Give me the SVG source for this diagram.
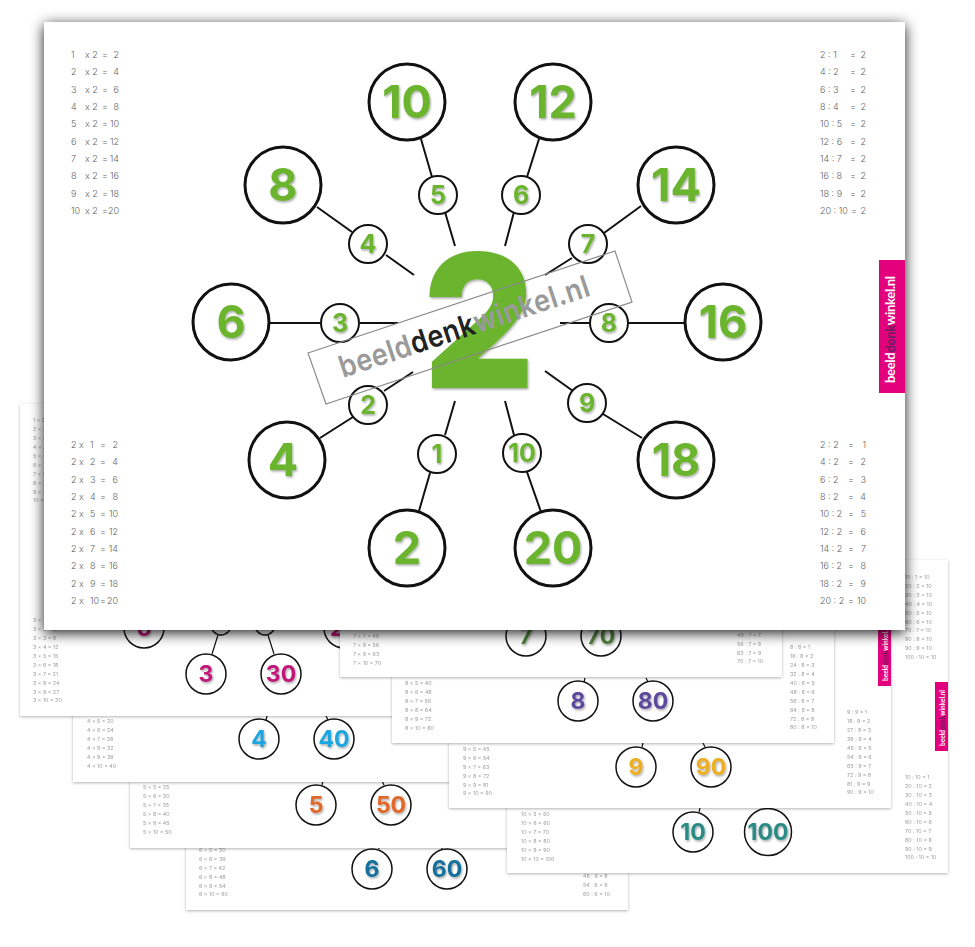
<svg xmlns="http://www.w3.org/2000/svg" width="975" height="947" viewBox="0 0 975 947">
<defs>
<style>
text{font-family:Inter,"Liberation Sans",sans-serif}
.sheet{fill:#fff;filter:url(#ss)}
.t{font-size:5.4px;fill:#a0a0a0;filter:url(#soft)}
.m{font-size:9px;fill:#5f5f5f;font-weight:300}
.e{text-anchor:end}
.c{fill:#fff;stroke:#111;stroke-width:1.5}
.d{font-size:23px;font-weight:700;text-anchor:middle;filter:url(#ds)}
.L{fill:#fff;stroke:#111;stroke-width:3}
.S{fill:#fff;stroke:#111;stroke-width:2}
.g{fill:#6ab42d;font-weight:700;text-anchor:middle;filter:url(#ds)}
.b{font-size:45px}
.s{font-size:25px}
.l{stroke:#111;stroke-width:2;fill:none}
.sl{stroke:#111;stroke-width:1.2;fill:none}
.tab{fill:#e2007d}
.tabt{fill:#fff;font-weight:700;font-family:Lato,"Liberation Sans",sans-serif}
</style>
<filter id="ss" x="-5%" y="-5%" width="110%" height="110%"><feDropShadow dx="0" dy="1" stdDeviation="1.5" flood-color="#000" flood-opacity=".3"/></filter>
<filter id="ms" x="-5%" y="-5%" width="110%" height="112%"><feDropShadow dx="0" dy="3" stdDeviation="7" flood-color="#000" flood-opacity=".9"/></filter>
<filter id="ds" x="-20%" y="-20%" width="140%" height="140%"><feDropShadow dx="1" dy="1.5" stdDeviation="1.2" flood-color="#000" flood-opacity=".35"/></filter>
<filter id="soft"><feGaussianBlur stdDeviation=".25"/></filter>
</defs>
<rect width="975" height="947" fill="#fff"/>

<g id="sheet-6">
<rect class="sheet" x="186" y="599" width="442" height="311"/>
<text class="t" x="199" y="852">6 x 5 = 30</text><text class="t" x="199" y="861">6 x 6 = 36</text><text class="t" x="199" y="870">6 x 7 = 42</text><text class="t" x="199" y="879">6 x 8 = 48</text><text class="t" x="199" y="888">6 x 9 = 54</text><text class="t" x="199" y="896">6 x 10 = 60</text>
<text class="t" x="583" y="878">48 : 6 = 8</text><text class="t" x="583" y="887">54 : 6 = 9</text><text class="t" x="583" y="896">60 : 6 = 10</text>
<path class="sl" d="M378 845l1 4M441 845l1 4"/>
<circle class="c" cx="372" cy="869" r="20"/><circle class="c" cx="447" cy="869" r="20"/>
<text class="d" x="372" y="877" fill="#126f9b">6</text><text class="d" x="447" y="877" fill="#126f9b">60</text>
</g>
<g id="sheet-5">
<rect class="sheet" x="130" y="535" width="442" height="313"/>
<text class="t" x="143" y="789">5 x 5 = 25</text><text class="t" x="143" y="798">5 x 6 = 30</text><text class="t" x="143" y="807">5 x 7 = 35</text><text class="t" x="143" y="816">5 x 8 = 40</text><text class="t" x="143" y="825">5 x 9 = 45</text><text class="t" x="143" y="834">5 x 10 = 50</text>
<path class="sl" d="M323 781l-1 4M382 781l2 4"/>
<circle class="c" cx="316" cy="805" r="20"/><circle class="c" cx="391" cy="805" r="20"/>
<text class="d" x="316" y="813" fill="#e2682a">5</text><text class="d" x="391" y="813" fill="#e2682a">50</text>
</g>
<g id="sheet-4">
<rect class="sheet" x="73" y="470" width="442" height="312"/>
<text class="t" x="87" y="723">4 x 5 = 20</text><text class="t" x="87" y="732">4 x 6 = 24</text><text class="t" x="87" y="741">4 x 7 = 28</text><text class="t" x="87" y="750">4 x 8 = 32</text><text class="t" x="87" y="759">4 x 9 = 36</text><text class="t" x="87" y="768">4 x 10 = 40</text>
<path class="sl" d="M267 716l-1 4M326 716l2 4"/>
<circle class="c" cx="259" cy="739" r="20"/><circle class="c" cx="334" cy="739" r="20"/>
<text class="d" x="259" y="747" fill="#1ea6df">4</text><text class="d" x="334" y="747" fill="#1ea6df">40</text>
</g>
<g id="sheet-3">
<rect class="sheet" x="20" y="404" width="442" height="312"/>
<text class="t" x="33" y="422">1 x 3 = 3</text><text class="t" x="33" y="431">2 x 3 = 6</text><text class="t" x="33" y="440">3 x 3 = 9</text><text class="t" x="33" y="449">4 x 3 = 12</text><text class="t" x="33" y="458">5 x 3 = 15</text><text class="t" x="33" y="467">6 x 3 = 18</text><text class="t" x="33" y="476">7 x 3 = 21</text><text class="t" x="33" y="485">8 x 3 = 24</text><text class="t" x="33" y="494">9 x 3 = 27</text><text class="t" x="33" y="502">10 x 3 = 30</text>
<text class="t" x="33" y="622">3 x 1 = 3</text><text class="t" x="33" y="631">3 x 2 = 6</text><text class="t" x="33" y="640">3 x 3 = 9</text><text class="t" x="33" y="649">3 x 4 = 12</text><text class="t" x="33" y="658">3 x 5 = 15</text><text class="t" x="33" y="667">3 x 6 = 18</text><text class="t" x="33" y="676">3 x 7 = 21</text><text class="t" x="33" y="685">3 x 8 = 24</text><text class="t" x="33" y="694">3 x 9 = 27</text><text class="t" x="33" y="702">3 x 10 = 30</text>
<path class="sl" d="M218 635l-6 19M268 635l6 19"/>
<circle class="c" cx="221" cy="625" r="10"/><circle class="c" cx="265" cy="625" r="10"/>
<circle class="c" cx="144" cy="628" r="20"/><circle class="c" cx="344" cy="628" r="20"/>
<text class="d" x="144" y="636" fill="#c2187a">6</text><text class="d" x="344" y="636" fill="#c2187a">27</text>
<circle class="c" cx="206" cy="674" r="20"/><circle class="c" cx="281" cy="674" r="20"/>
<text class="d" x="206" y="682" fill="#c2187a">3</text><text class="d" x="281" y="682" fill="#c2187a">30</text>
</g>
<g id="sheet-10">
<rect class="sheet" x="507" y="560" width="441" height="313"/>
<text class="t" x="521" y="816">10 x 5 = 50</text><text class="t" x="521" y="825">10 x 6 = 60</text><text class="t" x="521" y="834">10 x 7 = 70</text><text class="t" x="521" y="843">10 x 8 = 80</text><text class="t" x="521" y="852">10 x 9 = 90</text><text class="t" x="521" y="861">10 x 10 = 100</text>
<text class="t" x="905" y="579">10 : 1 = 10</text><text class="t" x="905" y="588">20 : 2 = 10</text><text class="t" x="905" y="597">30 : 3 = 10</text><text class="t" x="905" y="606">40 : 4 = 10</text><text class="t" x="905" y="615">50 : 5 = 10</text><text class="t" x="905" y="624">60 : 6 = 10</text><text class="t" x="905" y="632">70 : 7 = 10</text><text class="t" x="905" y="641">80 : 8 = 10</text><text class="t" x="905" y="650">90 : 9 = 10</text><text class="t" x="905" y="659">100 : 10 = 10</text>
<text class="t" x="905" y="779">10 : 10 = 1</text><text class="t" x="905" y="788">20 : 10 = 2</text><text class="t" x="905" y="797">30 : 10 = 3</text><text class="t" x="905" y="806">40 : 10 = 4</text><text class="t" x="905" y="815">50 : 10 = 5</text><text class="t" x="905" y="824">60 : 10 = 6</text><text class="t" x="905" y="833">70 : 10 = 7</text><text class="t" x="905" y="842">80 : 10 = 8</text><text class="t" x="905" y="851">90 : 10 = 9</text><text class="t" x="905" y="859">100 : 10 = 10</text>
<path class="sl" d="M700 808l-1 4"/>
<circle class="c" cx="693" cy="832" r="20"/><circle class="c" cx="768" cy="832" r="23.5"/>
<text class="d" x="693" y="840" fill="#2b8a84">10</text><text class="d" x="768" y="840" fill="#2b8a84">100</text>
<rect class="tab" x="935" y="682" width="13" height="69"/>
<text class="tabt" font-size="6.5" transform="translate(944.5 746) rotate(-90)" textLength="56">beeld<tspan fill="#6d1e5e">denk</tspan>winkel.nl</text>
</g>
<g id="sheet-9">
<rect class="sheet" x="449" y="496" width="442" height="312"/>
<text class="t" x="463" y="751">9 x 5 = 45</text><text class="t" x="463" y="760">9 x 6 = 54</text><text class="t" x="463" y="769">9 x 7 = 63</text><text class="t" x="463" y="778">9 x 8 = 72</text><text class="t" x="463" y="787">9 x 9 = 81</text><text class="t" x="463" y="795">9 x 10 = 90</text>
<text class="t" x="847" y="714">9 : 9 = 1</text><text class="t" x="847" y="723">18 : 9 = 2</text><text class="t" x="847" y="732">27 : 9 = 3</text><text class="t" x="847" y="741">36 : 9 = 4</text><text class="t" x="847" y="750">45 : 9 = 5</text><text class="t" x="847" y="759">54 : 9 = 6</text><text class="t" x="847" y="768">63 : 9 = 7</text><text class="t" x="847" y="777">72 : 9 = 8</text><text class="t" x="847" y="786">81 : 9 = 9</text><text class="t" x="847" y="794">90 : 9 = 10</text>
<path class="sl" d="M643 743l-1 4M703 743l2 4"/>
<circle class="c" cx="636" cy="767" r="20"/><circle class="c" cx="711" cy="767" r="20"/>
<text class="d" x="636" y="775" fill="#ecaf22">9</text><text class="d" x="711" y="775" fill="#ecaf22">90</text>
<rect class="tab" x="878" y="617" width="13" height="69"/>
<text class="tabt" font-size="6.5" transform="translate(887.5 681) rotate(-90)" textLength="56">beeld<tspan fill="#6d1e5e">denk</tspan>winkel.nl</text>
</g>
<g id="sheet-8">
<rect class="sheet" x="392" y="431" width="442" height="312"/>
<text class="t" x="405" y="685">8 x 5 = 40</text><text class="t" x="405" y="694">8 x 6 = 48</text><text class="t" x="405" y="703">8 x 7 = 56</text><text class="t" x="405" y="712">8 x 8 = 64</text><text class="t" x="405" y="721">8 x 9 = 72</text><text class="t" x="405" y="730">8 x 10 = 80</text>
<text class="t" x="790" y="649">8 : 8 = 1</text><text class="t" x="790" y="658">16 : 8 = 2</text><text class="t" x="790" y="667">24 : 8 = 3</text><text class="t" x="790" y="676">32 : 8 = 4</text><text class="t" x="790" y="685">40 : 8 = 5</text><text class="t" x="790" y="694">48 : 8 = 6</text><text class="t" x="790" y="703">56 : 8 = 7</text><text class="t" x="790" y="712">64 : 8 = 8</text><text class="t" x="790" y="721">72 : 8 = 9</text><text class="t" x="790" y="729">80 : 8 = 10</text>
<path class="sl" d="M585 678l-1 4M646 678l2 4"/>
<circle class="c" cx="578" cy="701" r="20"/><circle class="c" cx="653" cy="701" r="20"/>
<text class="d" x="578" y="709" fill="#5b4a9e">8</text><text class="d" x="653" y="709" fill="#5b4a9e">80</text>
</g>
<g id="sheet-7">
<rect class="sheet" x="340" y="367" width="442" height="310"/>
<text class="t" x="353" y="638">7 x 7 = 49</text><text class="t" x="353" y="647">7 x 8 = 56</text><text class="t" x="353" y="656">7 x 9 = 63</text><text class="t" x="353" y="665">7 x 10 = 70</text>
<text class="t" x="737" y="637">49 : 7 = 7</text><text class="t" x="737" y="646">56 : 7 = 8</text><text class="t" x="737" y="655">63 : 7 = 9</text><text class="t" x="737" y="663">70 : 7 = 10</text>
<circle class="c" cx="526" cy="636" r="20"/><circle class="c" cx="601" cy="636" r="20"/>
<text class="d" x="526" y="644" fill="#4f7f3a">7</text><text class="d" x="601" y="644" fill="#4f7f3a">70</text>
</g>

<g id="main-sheet">
<rect x="44" y="22" width="861" height="608" fill="#fff" filter="url(#ms)"/>
<rect class="tab" x="879" y="260" width="26" height="133"/>
<text class="tabt" font-size="13" transform="translate(895 383) rotate(-90)" textLength="107">beeld<tspan fill="#6d1e5e">denk</tspan>winkel.nl</text>
</g>

<g id="table-top-left" class="m">
<text y="58"><tspan x="71">1 </tspan><tspan x="85">x 2 </tspan><tspan x="102">= </tspan><tspan x="119" class="e">2</tspan></text>
<text y="75"><tspan x="71">2 </tspan><tspan x="85">x 2 </tspan><tspan x="102">= </tspan><tspan x="119" class="e">4</tspan></text>
<text y="93"><tspan x="71">3 </tspan><tspan x="85">x 2 </tspan><tspan x="102">= </tspan><tspan x="119" class="e">6</tspan></text>
<text y="110"><tspan x="71">4 </tspan><tspan x="85">x 2 </tspan><tspan x="102">= </tspan><tspan x="119" class="e">8</tspan></text>
<text y="127"><tspan x="71">5 </tspan><tspan x="85">x 2 </tspan><tspan x="102">= </tspan><tspan x="119" class="e">10</tspan></text>
<text y="145"><tspan x="71">6 </tspan><tspan x="85">x 2 </tspan><tspan x="102">= </tspan><tspan x="119" class="e">12</tspan></text>
<text y="162"><tspan x="71">7 </tspan><tspan x="85">x 2 </tspan><tspan x="102">= </tspan><tspan x="119" class="e">14</tspan></text>
<text y="179"><tspan x="71">8 </tspan><tspan x="85">x 2 </tspan><tspan x="102">= </tspan><tspan x="119" class="e">16</tspan></text>
<text y="197"><tspan x="71">9 </tspan><tspan x="85">x 2 </tspan><tspan x="102">= </tspan><tspan x="119" class="e">18</tspan></text>
<text y="214"><tspan x="71">10 </tspan><tspan x="85">x 2 </tspan><tspan x="102">= </tspan><tspan x="119" class="e">20</tspan></text>
</g>
<g id="table-bottom-left" class="m">
<text y="448"><tspan x="71">2 x </tspan><tspan x="90">1 </tspan><tspan x="100">= </tspan><tspan x="118" class="e">2</tspan></text>
<text y="465"><tspan x="71">2 x </tspan><tspan x="90">2 </tspan><tspan x="100">= </tspan><tspan x="118" class="e">4</tspan></text>
<text y="483"><tspan x="71">2 x </tspan><tspan x="90">3 </tspan><tspan x="100">= </tspan><tspan x="118" class="e">6</tspan></text>
<text y="500"><tspan x="71">2 x </tspan><tspan x="90">4 </tspan><tspan x="100">= </tspan><tspan x="118" class="e">8</tspan></text>
<text y="517"><tspan x="71">2 x </tspan><tspan x="90">5 </tspan><tspan x="100">= </tspan><tspan x="118" class="e">10</tspan></text>
<text y="535"><tspan x="71">2 x </tspan><tspan x="90">6 </tspan><tspan x="100">= </tspan><tspan x="118" class="e">12</tspan></text>
<text y="552"><tspan x="71">2 x </tspan><tspan x="90">7 </tspan><tspan x="100">= </tspan><tspan x="118" class="e">14</tspan></text>
<text y="569"><tspan x="71">2 x </tspan><tspan x="90">8 </tspan><tspan x="100">= </tspan><tspan x="118" class="e">16</tspan></text>
<text y="587"><tspan x="71">2 x </tspan><tspan x="90">9 </tspan><tspan x="100">= </tspan><tspan x="118" class="e">18</tspan></text>
<text y="604"><tspan x="71">2 x </tspan><tspan x="90">10 </tspan><tspan x="100">= </tspan><tspan x="118" class="e">20</tspan></text>
</g>
<g id="table-top-right" class="m">
<text y="58"><tspan x="820">2 : 1 </tspan><tspan x="850">= </tspan><tspan x="866" class="e">2</tspan></text>
<text y="75"><tspan x="820">4 : 2 </tspan><tspan x="850">= </tspan><tspan x="866" class="e">2</tspan></text>
<text y="93"><tspan x="820">6 : 3 </tspan><tspan x="850">= </tspan><tspan x="866" class="e">2</tspan></text>
<text y="110"><tspan x="820">8 : 4 </tspan><tspan x="850">= </tspan><tspan x="866" class="e">2</tspan></text>
<text y="127"><tspan x="820">10 : 5 </tspan><tspan x="850">= </tspan><tspan x="866" class="e">2</tspan></text>
<text y="145"><tspan x="820">12 : 6 </tspan><tspan x="850">= </tspan><tspan x="866" class="e">2</tspan></text>
<text y="162"><tspan x="820">14 : 7 </tspan><tspan x="850">= </tspan><tspan x="866" class="e">2</tspan></text>
<text y="179"><tspan x="820">16 : 8 </tspan><tspan x="850">= </tspan><tspan x="866" class="e">2</tspan></text>
<text y="197"><tspan x="820">18 : 9 </tspan><tspan x="850">= </tspan><tspan x="866" class="e">2</tspan></text>
<text y="214"><tspan x="820">20 : 10 </tspan><tspan x="851">= </tspan><tspan x="866" class="e">2</tspan></text>
</g>
<g id="table-bottom-right" class="m">
<text y="448"><tspan x="820">2 : 2 </tspan><tspan x="848">= </tspan><tspan x="866" class="e">1</tspan></text>
<text y="465"><tspan x="820">4 : 2 </tspan><tspan x="848">= </tspan><tspan x="866" class="e">2</tspan></text>
<text y="483"><tspan x="820">6 : 2 </tspan><tspan x="848">= </tspan><tspan x="866" class="e">3</tspan></text>
<text y="500"><tspan x="820">8 : 2 </tspan><tspan x="848">= </tspan><tspan x="866" class="e">4</tspan></text>
<text y="517"><tspan x="820">10 : 2 </tspan><tspan x="848">= </tspan><tspan x="866" class="e">5</tspan></text>
<text y="535"><tspan x="820">12 : 2 </tspan><tspan x="848">= </tspan><tspan x="866" class="e">6</tspan></text>
<text y="552"><tspan x="820">14 : 2 </tspan><tspan x="848">= </tspan><tspan x="866" class="e">7</tspan></text>
<text y="569"><tspan x="820">16 : 2 </tspan><tspan x="848">= </tspan><tspan x="866" class="e">8</tspan></text>
<text y="587"><tspan x="820">18 : 2 </tspan><tspan x="848">= </tspan><tspan x="866" class="e">9</tspan></text>
<text y="604"><tspan x="820">20 : 2 </tspan><tspan x="848">= </tspan><tspan x="866" class="e">10</tspan></text>
</g>

<g id="connectors" class="l">
<path d="M386 255L414 275M360 323H398M384 391L413 372M572 258L545 275M560 323H590M545 371L573 391M445 212L455 246M514 212L505 246M445 435L455 401M514 435L505 401"/>
<path d="M421 139L432 177M539 139L527 177M317 207L352 232M641 206L604 233M269 323H321M628 323H684M320 438L353 417M603 414L642 438M430 473L419 511M527 472L541 512"/>
</g>

<g id="center-two"><text class="g" font-size="186" font-weight="900" style="font-weight:900" transform="translate(479 388) scale(.92 1)">2</text></g>

<g id="n10"><circle class="L" cx="407" cy="102" r="38"/><text class="g b" x="407" y="118">10</text></g>
<g id="n12"><circle class="L" cx="553" cy="102" r="38"/><text class="g b" x="553" y="118">12</text></g>
<g id="n14"><circle class="L" cx="676" cy="185" r="38"/><text class="g b" x="676" y="201">14</text></g>
<g id="n16"><circle class="L" cx="723" cy="322" r="38"/><text class="g b" x="723" y="338">16</text></g>
<g id="n18"><circle class="L" cx="676" cy="460" r="38"/><text class="g b" x="676" y="476">18</text></g>
<g id="n20"><circle class="L" cx="553" cy="548" r="38"/><text class="g b" x="553" y="564">20</text></g>
<g id="n2"><circle class="L" cx="407" cy="548" r="38"/><text class="g b" x="407" y="564">2</text></g>
<g id="n4"><circle class="L" cx="287" cy="460" r="38"/><text class="g b" x="283" y="476">4</text></g>
<g id="n6"><circle class="L" cx="231" cy="322" r="38"/><text class="g b" x="231" y="338">6</text></g>
<g id="n8"><circle class="L" cx="283" cy="185" r="38"/><text class="g b" x="283" y="201">8</text></g>

<g id="f5"><circle class="S" cx="438" cy="195" r="19"/><text class="g s" x="438" y="204">5</text></g>
<g id="f6"><circle class="S" cx="521" cy="195" r="19"/><text class="g s" x="521" y="204">6</text></g>
<g id="f7"><circle class="S" cx="588" cy="244" r="19"/><text class="g s" x="588" y="253">7</text></g>
<g id="f8"><circle class="S" cx="609" cy="323" r="19"/><text class="g s" x="609" y="332">8</text></g>
<g id="f9"><circle class="S" cx="587" cy="403" r="19"/><text class="g s" x="587" y="412">9</text></g>
<g id="f10"><circle class="S" cx="522" cy="453" r="19"/><text class="g s" x="522" y="462">10</text></g>
<g id="f1"><circle class="S" cx="437" cy="454" r="19"/><text class="g s" x="437" y="463">1</text></g>
<g id="f2"><circle class="S" cx="368" cy="405" r="19"/><text class="g s" x="368" y="414">2</text></g>
<g id="f3"><circle class="S" cx="340" cy="323" r="19"/><text class="g s" x="340" y="332">3</text></g>
<g id="f4"><circle class="S" cx="368" cy="244" r="19"/><text class="g s" x="368" y="253">4</text></g>

<g id="watermark">
<path d="M308 353L615 251L632 302L326 404Z" fill="none" stroke="#8a8a8a" stroke-width="1.2"/>
<text transform="translate(343 378) rotate(-18.4) scale(1 1.12)" font-size="27" font-weight="600" fill="#9a9a9a" textLength="262">beeld<tspan fill="#222">denk</tspan>winkel.nl</text>
</g>
</svg>
